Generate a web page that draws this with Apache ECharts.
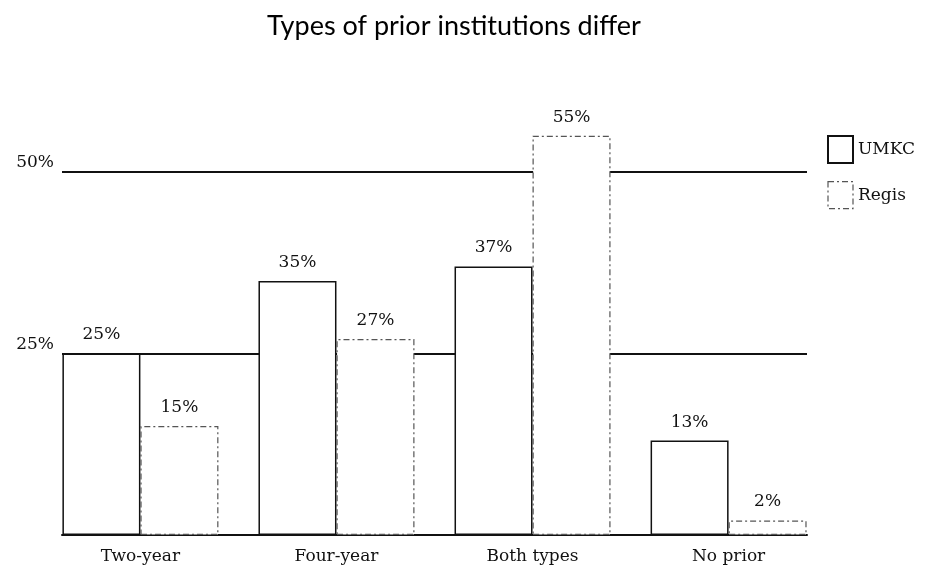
<!DOCTYPE html>
<html>
<head>
    <meta charset="utf-8">
    <title>Types of prior institutions differ</title>
    <script src="https://cdn.jsdelivr.net/npm/echarts@6/dist/echarts.min.js"></script>
</head>
<body style="margin:0">
<div id="main" style="width: 941px;height:571px;"></div>
<script type="text/javascript">
    // data
    var categories = ['Two-year', 'Four-year', 'Both types', 'No prior'];
    var umkc = [25, 35, 37, 13];
    var regis = [15, 27, 55, 2];
    var yTicks = [25, 50];

    var serif = '"DejaVu Serif", serif';
    var dash = [6, 3, 2, 3];

    // each group sits at i + 0.4 on a value axis running 0..3.8
    function groupX(i) { return i + 0.4; }
    function pairs(vals) {
        return vals.map(function (v, i) { return [groupX(i), v]; });
    }

    var myChart = echarts.init(document.getElementById('main'));

    var option = {
        animation: false,
        backgroundColor: '#fff',
        title: {
            text: 'Types of prior institutions differ',
            left: 262,
            top: 8,
            textStyle: {
                fontFamily: 'Lato, sans-serif',
                fontWeight: 'normal',
                fontSize: 27,
                color: '#000'
            }
        },
        legend: {
            orient: 'vertical',
            left: 822,
            top: 130,
            itemWidth: 25,
            itemHeight: 27,
            itemGap: 17,
            icon: 'rect',
            textStyle: { fontFamily: serif, fontSize: 17, color: '#111' },
            data: [
                'UMKC',
                { name: 'Regis', itemStyle: { color: '#fff', borderColor: '#555', borderWidth: 1.2, borderType: dash } }
            ]
        },
        grid: { left: 62, right: 134, top: 172, bottom: 36 },
        xAxis: {
            type: 'value',
            min: 0,
            max: 3.8,
            interval: 0.2,
            splitLine: { show: false },
            axisTick: { show: false },
            axisLine: { show: true, lineStyle: { color: '#111', width: 2 } },
            axisLabel: {
                margin: 13,
                fontFamily: serif,
                fontSize: 17,
                color: '#111',
                formatter: function (v) {
                    for (var i = 0; i < categories.length; i++) {
                        if (Math.abs(v - groupX(i)) < 1e-6) return categories[i];
                    }
                    return '';
                }
            }
        },
        yAxis: {
            type: 'value',
            min: 0,
            max: 50,
            interval: 25,
            axisLine: { show: false },
            axisTick: { show: false },
            splitLine: { lineStyle: { color: '#111', width: 2 } },
            axisLabel: {
                margin: 8,
                fontFamily: serif,
                fontSize: 17,
                color: '#111',
                verticalAlign: 'bottom',
                lineHeight: 18,
                formatter: function (v) {
                    return yTicks.indexOf(v) >= 0 ? v + '%' : '';
                }
            }
        },
        series: [
            {
                name: 'UMKC',
                type: 'bar',
                data: pairs(umkc),
                barWidth: 78,
                barGap: '0%',
                clip: false,
                z: 3,
                itemStyle: { color: '#fff', borderColor: '#111', borderWidth: 1.5 },
                label: {
                    show: true, position: 'top', distance: 10,
                    fontFamily: serif, fontSize: 17, color: '#111',
                    formatter: function (p) { return p.value[1] + '%'; }
                }
            },
            {
                name: 'Regis',
                type: 'bar',
                data: pairs(regis),
                barWidth: 78,
                barGap: '0%',
                clip: false,
                z: 3,
                itemStyle: { color: '#fff', borderColor: '#555', borderWidth: 1.2, borderType: dash },
                label: {
                    show: true, position: 'top', distance: 10,
                    fontFamily: serif, fontSize: 17, color: '#111',
                    formatter: function (p) { return p.value[1] + '%'; }
                }
            }
        ]
    };

    myChart.setOption(option);
</script>
</body>
</html>
